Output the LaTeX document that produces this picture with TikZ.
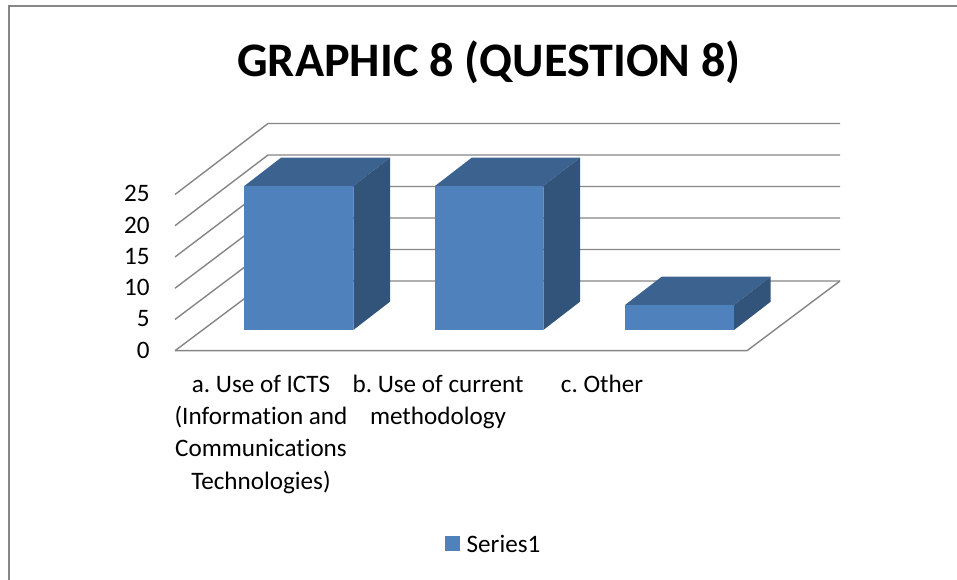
\documentclass[tikz,border=0pt]{standalone}
\usepackage{fontspec}
\setmainfont{Carlito}[Ligatures=NoCommon]
\usetikzlibrary{positioning}
\definecolor{barfront}{RGB}{79,129,189}
\definecolor{bartop}{RGB}{60,98,143}
\definecolor{barside}{RGB}{51,84,122}
\definecolor{gridgray}{RGB}{134,134,134}
\frenchspacing

\begin{document}
\begin{tikzpicture}[x=0.02cm, y=-0.02cm,
  gridline/.style={draw=gridgray,line width=0.8pt},
  lab/.style={font=\fontsize{14.3}{18.3}\selectfont,inner sep=0pt,align=center},
  ylab/.style={lab,anchor=base east}]
  \useasboundingbox (0,0) rectangle (957,580);
  \draw[gridgray,line width=1.1pt] (9,590) -- (9,6) -- (970,6);

  \node[font=\fontsize{27.4}{32}\selectfont\bfseries] (title) at (489,62) {GRAPHIC 8 (QUESTION 8)};

  % walls and floor
  \foreach \i in {0,...,5}{
    \draw[gridline] (175,350.7-31.24*\i) -- (268,281-31.5*\i) -- (840,281-31.5*\i);
    \pgfmathtruncatemacro{\v}{5*\i}
    \node[ylab] (ylab\i) at (150,350.7-31.24*\i+7.5) {\v};
  }
  \draw[gridline] (175,350.7) -- (747,350.7) -- (840,281);

  % bars
  \foreach \xa/\xb/\yt in {244.3/353.3/186, 435/543.3/186, 625/734/305}{
    \fill[barfront] (\xa,330) rectangle (\xb,\yt);
    \fill[bartop] (\xa,\yt) -- (\xa+36.7,\yt-28.3) -- (\xb+36.7,\yt-28.3) -- (\xb,\yt) -- cycle;
    \fill[barside] (\xb,\yt) -- (\xb+36.7,\yt-28.3) -- (\xb+36.7,301.7) -- (\xb,330) -- cycle;
  }

  % category labels
  \node[lab,anchor=north] (cata) at (261,375) {a. Use of ICTS\\(Information and\\Communications\\Technologies)};
  \node[lab,anchor=north] (catb) at (438,375) {b. Use of current\\methodology};
  \node[lab,anchor=north] (catc) at (602,375) {c. Other};

  % legend
  \node[fill=barfront,minimum size=0.3cm,inner sep=0pt] (key) at (452.5,543.5) {};
  \node[lab,anchor=west,right=0.12cm of key] (series) {Series1};
\end{tikzpicture}
\end{document}
